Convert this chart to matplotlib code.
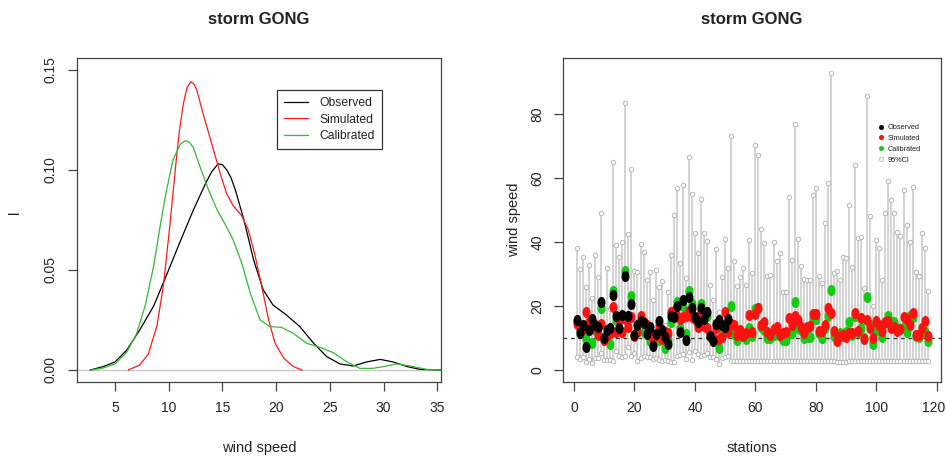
import numpy as np
import matplotlib
matplotlib.use("Agg")
import matplotlib.pyplot as plt
import matplotlib.transforms as mtransforms
from matplotlib.path import Path
from matplotlib.lines import Line2D

plt.rcParams['font.family'] = ['Liberation Sans', 'DejaVu Sans']

# ---------------- Left panel: density curves ----------------
obs_dx = [2.7, 3.9, 5.0, 6.1, 7.3, 8.6, 9.8, 11.05, 12.3, 13.5, 14.0, 14.6, 15.0, 15.4, 15.8, 16.2,
          17.0, 17.9, 18.8, 19.7, 20.95, 22.2, 23.5, 24.7, 25.95, 27.2, 28.4, 29.7, 30.9, 32.2, 33.4, 35.3]
obs_dy = [0.0, 0.0017, 0.004, 0.010, 0.020, 0.032, 0.0475, 0.064, 0.080, 0.094, 0.099, 0.103, 0.1025,
          0.100, 0.096, 0.090, 0.075, 0.055, 0.040, 0.0325, 0.0275, 0.0217, 0.0133, 0.0067, 0.003,
          0.002, 0.004, 0.0053, 0.004, 0.0017, 0.0003, 0.0]

sim_dx = [6.24, 7.3, 8.1, 8.9, 9.5, 10.1, 10.7, 11.0, 11.36, 11.7, 12.05, 12.35, 12.6, 13.2, 14.0,
          14.8, 15.4, 16.0, 16.8, 17.4, 18.0, 18.65, 19.3, 19.9, 20.7, 21.6, 22.4]
sim_dy = [0.0, 0.0025, 0.008, 0.022, 0.042, 0.072, 0.105, 0.120, 0.133, 0.141, 0.144, 0.1428, 0.140,
          0.128, 0.113, 0.098, 0.088, 0.082, 0.077, 0.070, 0.058, 0.042, 0.025, 0.0133, 0.006,
          0.0017, 0.0]

cal_dx = [2.8, 3.9, 5.0, 6.1, 7.0, 7.8, 8.6, 9.2, 9.8, 10.4, 11.05, 11.35, 11.6, 11.9, 12.3, 12.9,
          13.7, 14.5, 15.2, 16.0, 16.8, 17.6, 18.5, 19.4, 20.5, 21.6, 22.85, 24.1, 25.3, 26.6, 27.8,
          29.0, 30.3, 31.2, 32.5, 34.0, 35.3]
cal_dy = [0.0, 0.001, 0.003, 0.009, 0.018, 0.032, 0.052, 0.072, 0.090, 0.105, 0.1125, 0.114, 0.1145,
          0.1138, 0.111, 0.1017, 0.090, 0.080, 0.0733, 0.065, 0.0533, 0.0383, 0.025, 0.0217, 0.0213,
          0.0183, 0.0133, 0.0113, 0.0087, 0.004, 0.0008, 0.0008, 0.002, 0.003, 0.002, 0.0003, 0.0]

left_xticks = [5, 10, 15, 20, 25, 30, 35]
left_yticks = [0.00, 0.05, 0.10, 0.15]
left_ytick_labels = ["0.00", "0.05", "0.10", "0.15"]

# ---------------- Right panel: station values ----------------
ci_upper = [38.1, 31.5, 35.2, 26.0, 33.0, 22.5, 36.0, 29.0, 49.0, 19.5, 32.0, 19.0, 65.0, 39.0, 35.5,
            40.0, 83.5, 42.5, 63.0, 31.0, 30.7, 39.5, 37.0, 28.0, 30.7, 22.0, 31.3, 26.0, 27.7, 14.0,
            24.3, 36.0, 48.5, 57.0, 33.5, 58.0, 28.7, 66.5, 55.0, 43.0, 36.5, 53.5, 43.0, 40.5, 26.5,
            22.0, 38.0, 18.0, 29.0, 41.0, 32.0, 73.2, 34.0, 26.3, 29.0, 31.8, 26.5, 40.7, 30.5, 70.5,
            67.3, 44.2, 39.8, 29.3, 29.6, 40.0, 34.0, 36.5, 24.3, 24.3, 54.0, 34.3, 77.0, 41.0, 32.5,
            28.5, 28.0, 28.0, 54.8, 57.0, 29.3, 27.3, 46.0, 58.5, 93.0, 30.3, 31.0, 28.3, 35.5, 35.0,
            51.5, 32.3, 64.0, 41.3, 41.6, 25.6, 85.6, 48.3, 20.0, 40.7, 38.2, 28.2, 49.0, 59.0, 53.3,
            49.1, 43.2, 42.0, 56.3, 45.3, 40.1, 57.2, 30.7, 29.3, 43.0, 38.2, 24.7]

ci_lower = [4.2, 3.3, 4.0, 2.6, 3.6, 2.2, 3.8, 3.8, 5.3, 3.2, 3.2, 3.0, 2.8, 6.0, 4.3, 4.0, 4.4, 7.2,
            4.4, 5.2, 2.8, 3.8, 4.3, 4.2, 4.0, 3.5, 3.8, 3.0, 2.8, 3.1, 2.8, 2.6, 2.5, 4.3, 4.6, 5.0,
            3.5, 5.5, 3.2, 5.8, 5.0, 4.5, 4.8, 5.3, 4.0, 4.0, 3.5, 1.9, 3.8, 4.2, 4.5, 2.8, 2.8, 2.7,
            2.8, 2.8, 2.7, 2.8, 2.8, 2.8, 2.8, 2.7, 2.8, 2.8, 2.8, 2.7, 2.8, 2.8, 2.8, 2.8, 2.8, 2.7,
            2.8, 2.8, 2.8, 2.8, 2.7, 2.8, 2.8, 2.8, 2.8, 2.8, 2.8, 2.9, 2.8, 2.8, 2.5, 2.5, 2.6, 2.6,
            2.7, 2.8, 2.8, 2.8, 2.8, 2.7, 2.8, 2.8, 2.8, 2.8, 2.7, 2.8, 2.8, 2.8, 2.8, 2.8, 2.7, 2.8,
            2.8, 2.8, 2.8, 2.7, 2.8, 2.8, 2.8, 2.8, 2.8]

observed = [15.5, 11.5, 14.2, 7.2, 12.5, 15.8, 14.0, 13.5, 21.2, 10.0, 12.5, 13.0, 23.5, 17.0, 13.2,
            17.3, 29.5, 17.0, 20.7, 11.0, 14.0, 15.2, 14.6, 11.2, 13.3, 7.5, 11.3, 15.3, 12.5, 10.3,
            8.0, 16.8, 16.5, 20.0, 11.8, 22.0, 9.5, 22.8, 19.5, 16.5, 15.0, 19.5, 15.8, 18.0, 10.6,
            9.0, 14.3, 15.7, 14.0, 13.5, 15.8]

simulated = [14.3, 12.8, 12.8, 18.0, 15.0, 13.0, 13.5, 11.0, 14.3, 9.5, 10.5, 11.5, 19.7, 12.0, 15.5,
             11.8, 16.0, 13.5, 16.7, 10.5, 12.0, 17.0, 15.0, 14.2, 11.5, 9.8, 11.0, 13.8, 9.7, 11.8,
             11.5, 18.0, 18.5, 17.0, 16.0, 16.5, 17.0, 18.5, 16.5, 16.0, 13.5, 18.0, 13.8, 13.0, 11.0,
             10.0, 13.0, 9.8, 10.2, 18.0, 12.0, 14.3, 14.0, 11.0, 12.5, 10.5, 11.5, 17.2, 12.0, 17.5,
             19.5, 14.0, 15.0, 11.8, 11.0, 12.8, 13.5, 11.0, 11.5, 11.8, 16.2, 14.2, 17.0, 15.5, 13.5,
             11.5, 13.5, 13.8, 17.5, 17.5, 12.2, 12.3, 14.2, 19.3, 17.8, 12.3, 9.0, 10.5, 11.0, 10.2,
             11.7, 11.5, 17.8, 12.3, 16.3, 9.8, 15.5, 13.0, 9.9, 15.3, 14.0, 12.3, 15.0, 15.3, 13.0,
             13.3, 12.3, 12.8, 16.5, 15.8, 14.0, 17.8, 11.0, 11.0, 13.2, 15.3, 10.5]

calibrated = [15.0, 12.0, 12.5, 9.8, 13.0, 8.5, 12.5, 11.5, 19.5, 9.5, 11.5, 8.2, 24.8, 15.5, 16.0,
              12.0, 31.0, 17.0, 23.0, 11.0, 12.0, 15.5, 11.8, 11.2, 9.0, 9.3, 10.5, 9.5, 12.0, 7.0,
              9.5, 15.0, 17.5, 21.3, 13.0, 20.0, 11.3, 24.8, 20.7, 16.0, 14.5, 20.8, 16.5, 16.8, 10.5,
              9.5, 14.5, 7.0, 12.5, 13.5, 13.5, 20.0, 11.3, 9.5, 10.5, 11.0, 9.8, 13.0, 10.5, 19.0,
              19.3, 13.5, 12.5, 10.0, 10.0, 10.8, 11.8, 10.5, 9.5, 9.5, 11.5, 11.7, 21.3, 13.0, 12.5,
              10.0, 10.3, 10.3, 16.0, 16.0, 11.5, 10.0, 13.0, 16.8, 25.0, 10.5, 9.5, 11.5, 10.5, 11.8,
              15.0, 11.0, 17.0, 12.0, 13.0, 10.0, 22.7, 14.0, 8.2, 12.5, 12.5, 10.2, 14.8, 17.0, 15.0,
              15.0, 13.0, 12.8, 13.5, 12.0, 17.0, 16.7, 10.5, 10.3, 13.0, 12.0, 9.0]

threshold = 10
right_xticks = [0, 20, 40, 60, 80, 100, 120]
right_yticks = [0, 20, 40, 60, 80]

# ---------------- Figure ----------------
W, H = 946, 457
fig = plt.figure(figsize=(W / 100, H / 100), dpi=100)

def ax_rect(x0, y0, x1, y1):
    return [x0 / W, 1 - y1 / H, (x1 - x0) / W, (y1 - y0) / H]

axcol = '#444444'
txtcol = '#222222'
tick_fs = 10

axL = fig.add_axes(ax_rect(76.7, 57.7, 441, 382))
axR = fig.add_axes(ax_rect(563.3, 58.3, 941, 382))

for ax in (axL, axR):
    for s in ax.spines.values():
        s.set_color(axcol)
        s.set_linewidth(0.9)
    ax.tick_params(direction='out', length=6.5, width=0.9, color=axcol,
                   labelsize=tick_fs, labelcolor=txtcol, pad=7)

# Left panel
axL.axhline(0, color='#c8c8c8', lw=1.0, zorder=1)
axL.plot(obs_dx, obs_dy, color='black', lw=0.9, label='Observed', zorder=3)
axL.plot(sim_dx, sim_dy, color='#ff1a1a', lw=0.9, label='Simulated', zorder=3)
axL.plot(cal_dx, cal_dy, color='#33bb33', lw=0.9, label='Calibrated', zorder=3)
axL.set_xlim(1.43, 35.35)
axL.set_ylim(-0.006, 0.156)
axL.set_xticks(left_xticks)
axL.set_yticks(left_yticks)
axL.set_yticklabels(left_ytick_labels, rotation=90, va='center')
legL = axL.legend(loc='upper left', bbox_to_anchor=(0.549, 0.900), frameon=True, fancybox=False,
                  edgecolor='black', fontsize=8.7, handlelength=2.0, handletextpad=0.9,
                  borderpad=0.6, labelspacing=0.35, borderaxespad=0)
legL.get_frame().set_linewidth(0.9)
for t in legL.get_texts():
    t.set_color(txtcol)

# Right panel
theta = np.linspace(0, 2 * np.pi, 60)
ellipse = Path(np.column_stack([0.72 * np.cos(theta), np.sin(theta)]), closed=True)

st = np.arange(1, len(ci_upper) + 1)
st_obs = np.arange(1, len(observed) + 1)
axR.vlines(st, ci_lower, ci_upper, color='#cccccc', lw=1.2, zorder=1)
axR.plot(st, ci_upper, ls='none', marker='o', ms=3.2, mfc='white', mec='#b5b5b5', mew=0.7, zorder=2)
axR.plot(st, ci_lower, ls='none', marker='o', ms=3.2, mfc='white', mec='#b5b5b5', mew=0.7, zorder=2)
axR.axhline(threshold, color='#333333', lw=0.9, ls=(0, (3, 3)), zorder=2.5)
axR.plot(st, calibrated, ls='none', marker=ellipse, ms=8, mfc='#11cc11', mec='#11cc11', mew=0, zorder=3)
axR.plot(st, simulated, ls='none', marker=ellipse, ms=8, mfc='#ff1111', mec='#ff1111', mew=0, zorder=4)
axR.plot(st_obs, observed, ls='none', marker=ellipse, ms=8, mfc='black', mec='black', mew=0, zorder=5)
axR.set_xlim(-3.54, 121.4)
axR.set_ylim(-3.75, 97.5)
axR.set_xticks(right_xticks)
axR.set_yticks(right_yticks)
axR.set_yticklabels([str(v) for v in right_yticks], rotation=90, va='center')
# keep the last x tick label inside the picture
last_lab = axR.get_xticklabels()[-1]
last_lab.set_transform(last_lab.get_transform() +
                       mtransforms.ScaledTranslation(-3 / 100, 0, fig.dpi_scale_trans))

handles = [
    Line2D([], [], ls='none', marker='o', ms=2.6, mfc='black', mec='black'),
    Line2D([], [], ls='none', marker='o', ms=2.6, mfc='#ff1111', mec='#ff1111'),
    Line2D([], [], ls='none', marker='o', ms=2.6, mfc='#11cc11', mec='#11cc11'),
    Line2D([], [], ls='none', marker='o', ms=3.0, mfc='white', mec='#b5b5b5', mew=0.6),
]
legR = axR.legend(handles, ['Observed', 'Simulated', 'Calibrated', '95%CI'], loc='upper left',
                  bbox_to_anchor=(0.833, 0.797), frameon=False, fontsize=5.3, handlelength=0.8,
                  handletextpad=0.5, labelspacing=0.5, borderpad=0, borderaxespad=0)
for t in legR.get_texts():
    t.set_color(txtcol)

# Titles and axis labels
def ftext(x, y, s, **kw):
    fig.text(x / W, 1 - y / H, s, ha='center', va='center', color=txtcol, **kw)

ftext(259, 19, 'storm GONG', fontsize=12, fontweight='bold')
ftext(752, 19, 'storm GONG', fontsize=12, fontweight='bold')
ftext(259, 448, 'wind speed', fontsize=10.5)
ftext(752, 448, 'stations', fontsize=10.5)
ftext(15, 212, 'l', fontsize=10.5, rotation=90)
ftext(514, 220, 'wind speed', fontsize=10.5, rotation=90)

fig.savefig('out.png', dpi=100)
